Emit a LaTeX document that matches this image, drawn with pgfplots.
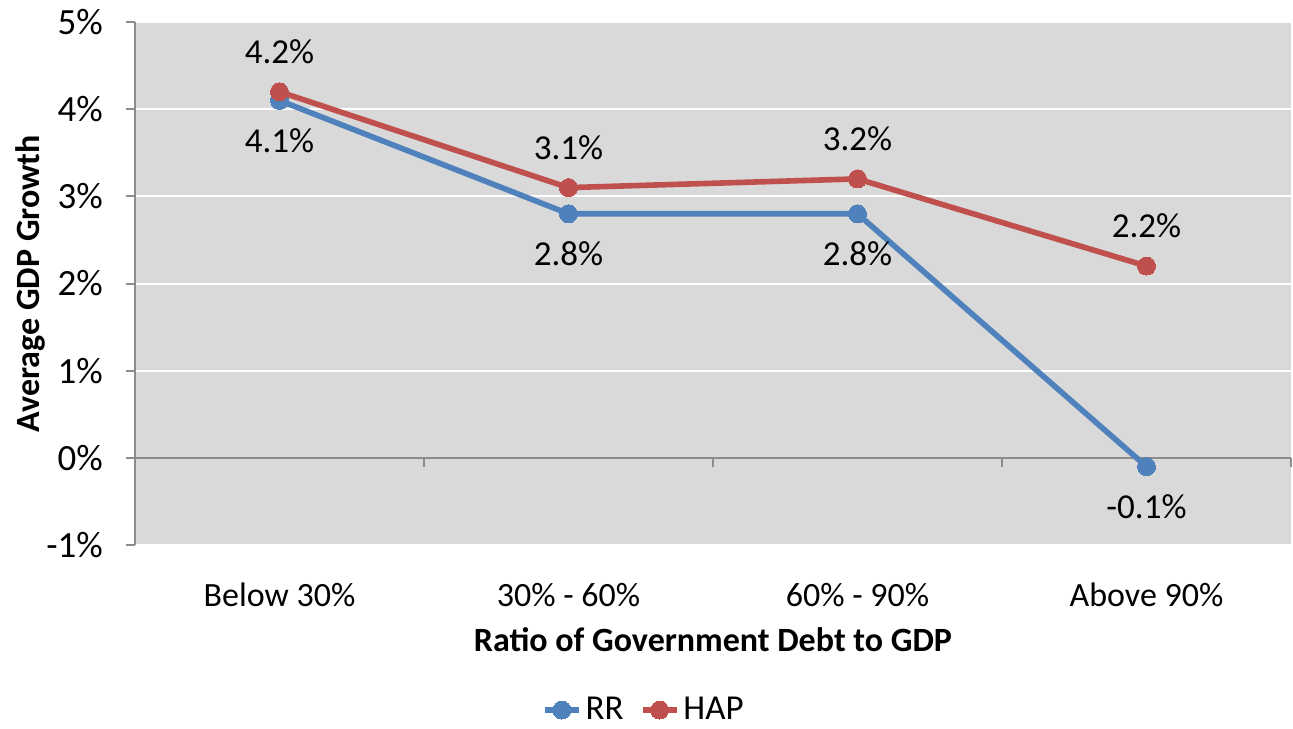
\documentclass[border=0pt]{standalone}
\usepackage{pgfplots}
\pgfplotsset{compat=1.18}
\usepackage{fontspec}
\setmainfont{Carlito}
\definecolor{bgc}{HTML}{D9D9D9}
\definecolor{rrc}{HTML}{4F81BD}
\definecolor{hapc}{HTML}{C0504D}
\definecolor{axc}{HTML}{8C8C8C}
\begin{document}
\begin{tikzpicture}
\useasboundingbox (-67.5pt,-91.5pt) rectangle (579pt,272.5pt);
\begin{axis}[
  at={(0,0)}, anchor=south west,
  scale only axis, width=578pt, height=261.5pt,
  xmin=-0.5, xmax=3.5, ymin=-1, ymax=5,
  xtick={0,1,2,3},
  xticklabels={Below 30\%, 30\% - 60\%, 60\% - 90\%, Above 90\%},
  ytick={-1,0,1,2,3,4,5},
  yticklabel={\pgfmathprintnumber{\tick}\%},
  /pgf/number format/assume math mode=true,
  font=\fontsize{17}{20}\selectfont,
  axis lines*=left,
  axis line style={-},
  x axis line style={draw=none},
  y axis line style={draw=axc, line width=1pt},
  x tick style={draw=none},
  y tick style={draw=axc, line width=1pt},
  tick align=outside,
  major tick length=4.5pt,
  ymajorgrids,
  grid style={white, line width=1pt},
  axis background/.style={fill=bgc},
  xticklabel style={yshift=-11pt},
  yticklabel style={xshift=-8pt, font=\fontsize{18.5}{20}\selectfont},
  xlabel={\textbf{Ratio of Government Debt to GDP}},
  ylabel={\textbf{Average GDP Growth}},
  xlabel style={at={(rel axis cs:0.5,0)}, anchor=center, yshift=-47.5pt},
  every axis y label/.style={at={(rel axis cs:0,0.5)}, rotate=90, anchor=center, yshift=52.5pt},
  legend style={at={(rel axis cs:0.441,-0.3155)}, anchor=center, draw=none, fill=none,
    legend columns=2, /tikz/every even column/.append style={column sep=6pt},
    font=\fontsize{17.5}{20}\selectfont},
  nodes near coords={\pgfmathprintnumber[fixed,precision=1,fixed zerofill]{\pgfplotspointmeta}\%},
  every node near coord/.append style={font=\fontsize{17.5}{20}\selectfont, text=black, anchor=center},
  clip=false,
]
\draw[axc, line width=1pt] (axis cs:-0.5,0) -- (axis cs:3.5,0);
\pgfplotsinvokeforeach{0.5,1.5,2.5,3.5}{
  \draw[axc, line width=1pt] (axis cs:#1,0) -- ([yshift=-4.5pt]axis cs:#1,0);
}
\addplot[rrc, line width=2.8pt, mark=*, mark size=4.5pt, mark options={fill=rrc, draw=rrc, line width=0pt},
  every node near coord/.append style={yshift=-20pt}]
  coordinates {(0,4.1) (1,2.8) (2,2.8) (3,-0.1)};
\addlegendentry{RR}
\addplot[hapc, line width=2.8pt, mark=*, mark size=4.5pt, mark options={fill=hapc, draw=hapc, line width=0pt},
  every node near coord/.append style={yshift=20pt}]
  coordinates {(0,4.2) (1,3.1) (2,3.2) (3,2.2)};
\addlegendentry{HAP}
\end{axis}
\end{tikzpicture}
\end{document}
